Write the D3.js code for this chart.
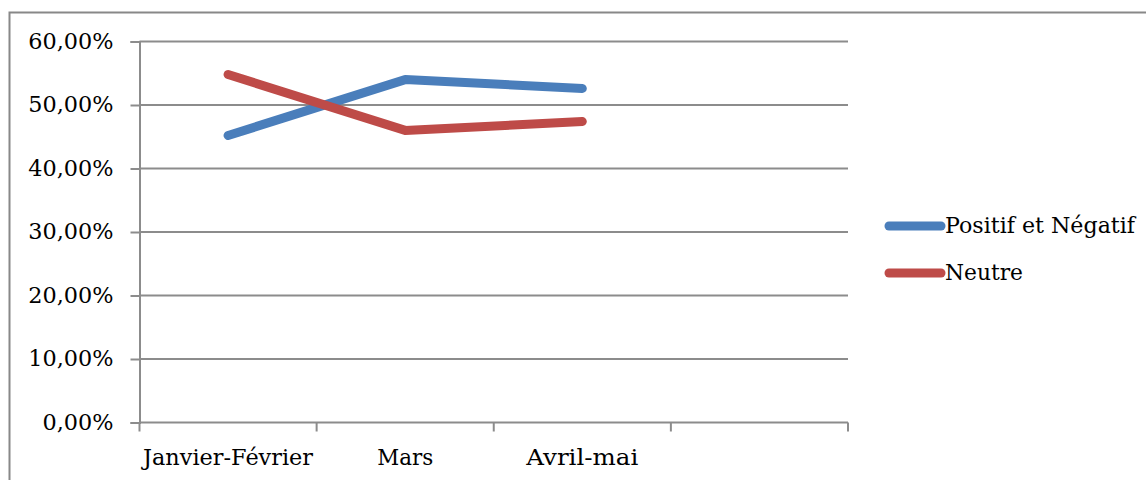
<!DOCTYPE html>
<html lang="fr">
<head>
    <meta charset="UTF-8">
    <title>Positif et Négatif / Neutre</title>
    <script src="https://d3js.org/d3.v7.min.js"></script>
    <style>
        body { margin: 0; background: white; }
        svg { display: block; }
    </style>
</head>
<body>
    <svg></svg>
    <script>
        // Data
        var categories = ["Janvier-Février", "Mars", "Avril-mai", ""];
        var positif = [0.452, 0.540, 0.526];
        var neutre = [0.548, 0.460, 0.474];
        var yTicks = [0, 0.1, 0.2, 0.3, 0.4, 0.5, 0.6];
        var seriesNames = ["Positif et Négatif", "Neutre"];
        var seriesColors = ["#4a7ebb", "#be4b48"];

        var width = 1146, height = 480;
        var svg = d3.select("svg").attr("width", width).attr("height", height);
        var font = "'DejaVu Serif', serif";

        // Outer chart border (only top and left visible)
        svg.append("path")
            .attr("d", "M9.5,480 V12.5 H1146")
            .attr("fill", "none")
            .attr("stroke", "#888")
            .attr("stroke-width", 2);

        // plot area
        var pLeft = 139.5, pRight = 848, pTop = 41.5, pBottom = 422.5;

        var x = d3.scaleBand().domain(d3.range(categories.length)).range([pLeft, pRight]);
        var y = d3.scaleLinear().domain([0, 0.6]).range([pBottom, pTop]);

        // Gridlines
        svg.append("g").selectAll("line")
            .data(yTicks.filter(function(d) { return d > 0; }))
            .enter().append("line")
            .attr("x1", pLeft).attr("x2", pRight)
            .attr("y1", function(d) { return y(d); })
            .attr("y2", function(d) { return y(d); })
            .attr("stroke", "#8c8c8c")
            .attr("stroke-width", 2);

        // Y axis
        var fmt = function(d) { return (d * 100).toFixed(2).replace(".", ",") + "%"; };
        var yAxis = d3.axisLeft(y).tickValues(yTicks).tickSize(9).tickPadding(17).tickFormat(fmt);
        var gy = svg.append("g").attr("transform", "translate(" + pLeft + ",0)").call(yAxis);
        gy.select(".domain").attr("stroke", "#8c8c8c").attr("stroke-width", 2);
        gy.selectAll(".tick line").attr("stroke", "#8c8c8c").attr("stroke-width", 2);
        gy.selectAll(".tick text")
            .attr("font-family", font).attr("font-size", 22).attr("fill", "#000")
            .attr("dy", "0.3em")
            .attr("textLength", function(d) { return fmt(d).length * 14.2; })
            .attr("lengthAdjust", "spacingAndGlyphs");

        // X axis
        var xEdges = d3.range(categories.length + 1).map(function(i) { return pLeft + i * x.step(); });
        svg.append("line")
            .attr("x1", pLeft).attr("x2", pRight).attr("y1", pBottom).attr("y2", pBottom)
            .attr("stroke", "#8c8c8c").attr("stroke-width", 2);
        svg.append("g").selectAll("line")
            .data(xEdges).enter().append("line")
            .attr("x1", function(d) { return d; }).attr("x2", function(d) { return d; })
            .attr("y1", pBottom).attr("y2", pBottom + 9)
            .attr("stroke", "#8c8c8c").attr("stroke-width", 2);

        var labelWidths = [170, 56, 112, 0];
        svg.append("g").selectAll("text")
            .data(categories).enter().append("text")
            .filter(function(d) { return d !== ""; })
            .attr("x", function(d, i) { return x(i) + x.bandwidth() / 2; })
            .attr("y", 465)
            .attr("text-anchor", "middle")
            .attr("font-family", font).attr("font-size", 23)
            .attr("textLength", function(d, i) { return labelWidths[i]; })
            .attr("lengthAdjust", "spacingAndGlyphs")
            .text(function(d) { return d; });

        // Lines
        var line = d3.line()
            .x(function(d, i) { return x(i) + x.bandwidth() / 2; })
            .y(function(d) { return y(d); });
        [positif, neutre].forEach(function(s, k) {
            svg.append("path")
                .datum(s)
                .attr("d", line)
                .attr("fill", "none")
                .attr("stroke", seriesColors[k])
                .attr("stroke-width", 9)
                .attr("stroke-linecap", "round")
                .attr("stroke-linejoin", "round");
        });

        // Legend
        var legend = svg.append("g").selectAll("g")
            .data(seriesNames).enter().append("g")
            .attr("transform", function(d, i) { return "translate(889," + (226 + i * 47) + ")"; });
        legend.append("line")
            .attr("x1", 0).attr("x2", 52)
            .attr("stroke", function(d, i) { return seriesColors[i]; })
            .attr("stroke-width", 9)
            .attr("stroke-linecap", "round");
        legend.append("text")
            .attr("x", 56).attr("dy", "0.32em")
            .attr("font-family", font).attr("font-size", 22)
            .attr("textLength", function(d, i) { return [190, 78][i]; })
            .attr("lengthAdjust", "spacingAndGlyphs")
            .text(function(d) { return d; });
    </script>
</body>
</html>
